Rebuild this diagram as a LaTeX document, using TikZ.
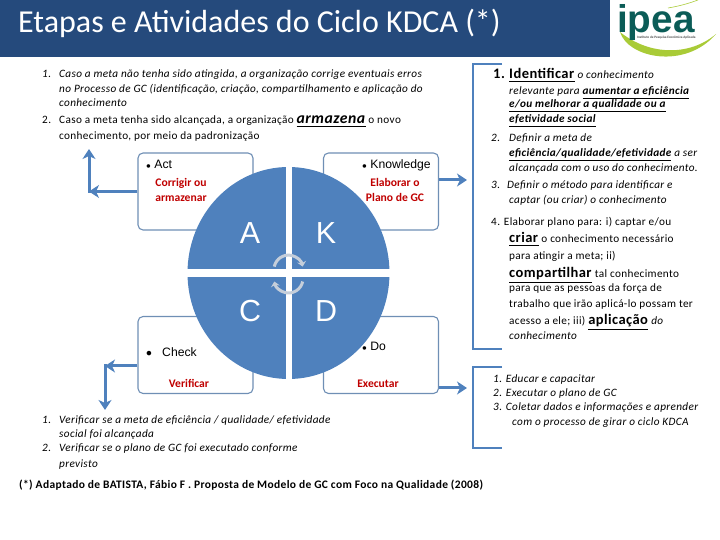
\documentclass[tikz,border=0pt]{standalone}
\usepackage{fontspec}
\setmainfont{Carlito}
\newfontfamily\bodyfont[LetterSpace=3]{Carlito}
\newfontfamily\arialfont{Liberation Sans}
\usepackage{xcolor}
\usetikzlibrary{arrows.meta, calc}
\definecolor{barblue}{HTML}{254A7C}
\definecolor{cycblue}{HTML}{4F81BD}
\definecolor{boxedge}{HTML}{6F8FB5}
\definecolor{redlab}{HTML}{C00000}
\definecolor{ipeagreen}{HTML}{0B5C57}
\definecolor{lime}{HTML}{A9CB37}
\definecolor{turngray}{HTML}{C5CEDA}
\newcommand{\keyw}[1]{\underline{\textbf{\textit{#1}}}}
\newcommand{\bigw}[1]{{\fontsize{12.4}{14}\selectfont\underline{\textbf{#1}}}}
\newcommand{\armw}[1]{{\fontsize{13.4}{14}\selectfont\keyw{#1}}}
\def\px{0.03cm}
\begin{document}
\begin{tikzpicture}[
  x=\px, y=-\px,
  txt/.style={anchor=base west, inner sep=0pt, font=\fontsize{9.6}{11}\selectfont\bodyfont\itshape},
  upr/.style={anchor=base west, inner sep=0pt, font=\fontsize{9.6}{11}\selectfont\bodyfont},
  cyc/.style={draw=boxedge, fill=white, rounded corners=5*\px, line width=1.1*\px,
              minimum width=115*\px, minimum height=77*\px, inner sep=0pt},
  eng/.style={anchor=base west, inner sep=0pt, font=\fontsize{10.4}{12}\selectfont\arialfont},
  redl/.style={anchor=base, inner sep=0pt, text=redlab, font=\fontsize{9.9}{11}\selectfont\bfseries},
  letr/.style={inner sep=0pt, text=white, font=\fontsize{26}{28}\selectfont\arialfont},
  arr/.style={-{Stealth[length=10*\px, width=13*\px, inset=3*\px]}, draw=cycblue, line width=3*\px},
  brk/.style={draw=cycblue, line width=2.6*\px},
  turn/.style={draw=turngray, line width=3*\px, -{Stealth[length=5*\px, width=9*\px]}},
]
\useasboundingbox (0,0) rectangle (720,540);

%% ---- title bar and logo ----
\fill[barblue] (0,0) rectangle (610,57);
\node[anchor=base west, inner sep=0pt, text=white, font=\fontsize{27.3}{30}\selectfont] (title) at (18,33)
  {Etapas e Atividades do Ciclo KDCA (*)};
\fill[lime] (620,32) .. controls (628,58) and (685,70) .. (716,34)
  .. controls (690,56) and (650,56) .. (620,32);
\draw[lime, line width=0.6*\px] (668,8) .. controls (680,6) and (690,3) .. (698,0);
\node[anchor=base west, inner sep=0pt, text depth=0pt, text=ipeagreen, font=\fontsize{33}{34}\selectfont\arialfont\bfseries] (logo) at (617,33) {ipea};
\node[anchor=base west, inner sep=0pt, text=black!70, font=\fontsize{2.9}{3}\selectfont\bfseries] (slogan) at (637,39)
  {Instituto de Pesquisa Econômica Aplicada};

%% ---- the four boxes ----
\node[cyc] (actbox) at (195.5,191.5) {};
\node[cyc] (knobox) at (381,191.5) {};
\node[cyc] (chkbox) at (195.5,355) {};
\node[cyc] (dobox)  at (381,355) {};

%% ---- arrows out of the boxes ----
\coordinate (actturn) at (89,191.5);
\coordinate (acttip)  at (89,149);
\coordinate (chkturn) at (105,366);
\coordinate (chktip)  at (105,410);
\coordinate (knotip)  at (467,180);
\coordinate (dotip)   at (467,388);
\draw[arr] (actbox.west) -- (actturn);
\draw[arr] ($(actturn)+(0,1.5)$) -- (acttip);
\draw[arr] (chkbox.west |- chkturn) -- (chkturn);
\draw[arr] ($(chkturn)+(0,-1.5)$) -- (chktip);
\draw[arr] (knobox.east |- knotip) -- (knotip);
\draw[arr] (dobox.east |- dotip) -- (dotip);

%% ---- the brackets on the right ----
\draw[brk] (502,64) -- (473,64) -- (473,349) -- (502,349);
\draw[brk] (502,367) -- (473,367) -- (473,448) -- (502,448);

%% ---- the cycle ----
\fill[cycblue] (288.5,273) ellipse [x radius=101, y radius=106];
\fill[white] (285.5,160) rectangle (291.5,385);
\fill[white] (180,269.5) rectangle (395,277.5);
\node[letr] (la) at (250,233) {A};
\node[letr] (lk) at (326,233) {K};
\node[letr] (lc) at (250,311) {C};
\node[letr] (ld) at (326,311) {D};
\draw[turn] (274.3,266.6) arc[start angle=192, end angle=348, radius=14.5];
\draw[turn] (302.7,281.5) arc[start angle=12, end angle=168, radius=14.5];

%% ---- box labels ----
\foreach \nm/\x/\y/\lab in {
  act/146/169/{$\scriptstyle\bullet$ Act},
  kno/362/169/{$\scriptstyle\bullet$ Knowledge},
  don/362/351/{$\scriptstyle\bullet$ Do}} {
  \node[eng] (\nm) at (\x,\y) {\lab};
}
\node[eng] (chkdot) at (146,357) {$\bullet$};
\node[eng] (chk) at (162,357) {Check};
\foreach \nm/\x/\y/\lab in {
  cor/181/187/{Corrigir ou}, arm/181/202/{armazenar},
  ela/395/187/{Elaborar o}, pla/395/202/{Plano de GC},
  ver/189/387/{Verificar}, exe/378/388/{Executar}} {
  \node[redl] (\nm) at (\x,\y) {\lab};
}

%% ---- text above the cycle ----
\foreach \nm/\x/\y/\lab in {
  ta/42/78/{1.}, tb/59/78/{Caso a meta não tenha sido atingida, a organização corrige eventuais erros},
  tc/59/93/{no Processo de GC  (identificação, criação, compartilhamento e aplicação do},
  td/59/107/{conhecimento}} {
  \node[txt] (\nm) at (\x,\y) {\lab};
}
\foreach \nm/\x/\y/\lab in {
  te/42/124/{2.}, tf/59/124/{Caso a meta tenha sido alcançada, a organização \armw{armazena} o novo},
  tg/59/140/{conhecimento, por meio da padronização}} {
  \node[upr] (\nm) at (\x,\y) {\lab};
}

%% ---- text on the right ----
\node[upr, font=\fontsize{12.4}{14}\selectfont\bodyfont\bfseries] (ra) at (493,79) {1.};
\node[upr] (rb) at (509,79) {\bigw{Identificar} \textit{o conhecimento}};
\foreach \nm/\x/\y/\lab in {
  rc/509/95/{relevante para \keyw{aumentar a eficiência}},
  rd/509/108/{\keyw{e/ou melhorar  a qualidade ou a}},
  re/509/123/{\keyw{efetividade social}},
  rf/491/142/{2.}, rg/509/142/{Definir a meta  de},
  rh/509/157/{\keyw{eficiência/qualidade/efetividade} a ser},
  ri/509/172/{alcançada com o uso do conhecimento.},
  rj/491/189/{3.}, rk/507/189/{Definir o método para identificar e},
  rl/509/204/{captar (ou criar) o conhecimento},
  rt/509/340/{conhecimento},
  sa/493/382/{1. Educar e capacitar},
  sb/493/397/{2. Executar o plano de GC},
  sc/493/411/{3. Coletar dados e informações e aprender},
  sd/512/425/{com o processo de girar o ciclo KDCA}} {
  \node[txt] (\nm) at (\x,\y) {\lab};
}
\foreach \nm/\x/\y/\lab in {
  rm/491/226/{4.  Elaborar plano para: i) captar e/ou},
  rn/509/243/{\bigw{criar} o conhecimento necessário},
  ro/509/260/{para atingir a meta; ii)},
  rp/509/278/{\bigw{compartilhar}  tal conhecimento},
  rq/509/292/{para que as pessoas da força de},
  rr/509/308/{trabalho que irão aplicá-lo possam ter},
  rs/509/325/{acesso a ele; iii) \bigw{aplicação} \textit{do}}} {
  \node[upr] (\nm) at (\x,\y) {\lab};
}

%% ---- text below the cycle ----
\foreach \nm/\x/\y/\lab in {
  ba/42/423/{1.}, bb/59/423/{Verificar se  a meta de eficiência / qualidade/ efetividade},
  bc/59/438/{social foi alcançada},
  bd/42/452/{2.}, be/59/452/{Verificar se o plano de GC  foi executado conforme},
  bf/59/467/{previsto}} {
  \node[txt] (\nm) at (\x,\y) {\lab};
}
\node[upr, font=\fontsize{9.8}{11}\selectfont\bodyfont\bfseries] (note) at (19,488)
  {(*) Adaptado de BATISTA, Fábio F .  Proposta de Modelo de GC com Foco na Qualidade (2008)};
\end{tikzpicture}
\end{document}
